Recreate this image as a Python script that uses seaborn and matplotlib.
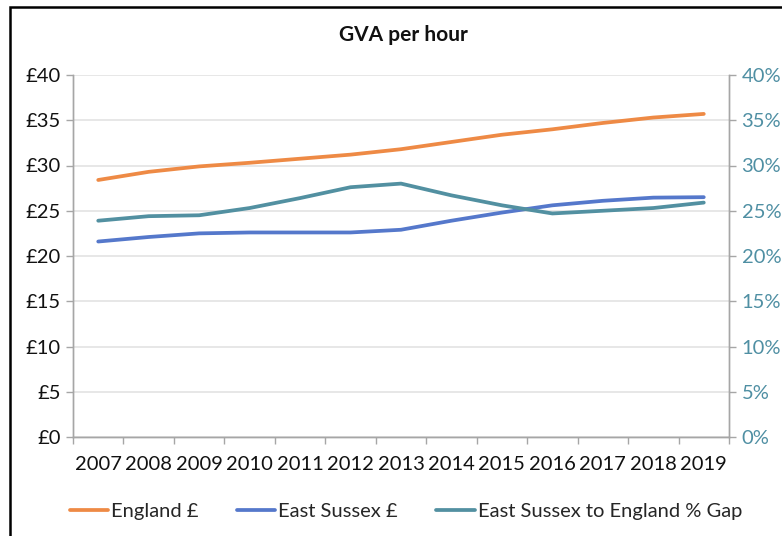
import matplotlib
matplotlib.use("Agg")
import matplotlib.pyplot as plt
import seaborn as sns
import pandas as pd
from matplotlib.lines import Line2D
from matplotlib.patches import Rectangle
from matplotlib.ticker import FixedLocator, FuncFormatter

years = ["2007", "2008", "2009", "2010", "2011", "2012", "2013",
         "2014", "2015", "2016", "2017", "2018", "2019"]
england = [28.4, 29.3, 29.9, 30.3, 30.75, 31.2, 31.8, 32.6, 33.4, 34.0, 34.7, 35.3, 35.7]
east_sussex = [21.6, 22.1, 22.5, 22.6, 22.6, 22.6, 22.9, 23.9, 24.8, 25.6, 26.1, 26.45, 26.5]
gap_pct = [23.9, 24.4, 24.5, 25.3, 26.4, 27.6, 28.0, 26.7, 25.6, 24.7, 25.0, 25.3, 25.9]

series_names = ["England £", "East Sussex £", "East Sussex to England % Gap"]
colors = ["#EE8A45", "#5578CB", "#5290A1"]
right_color = "#4F8FA3"

sns.set_theme(style="white")
plt.rcParams["font.family"] = ["Lato", "DejaVu Sans"]

df = pd.DataFrame({"year": years, "england": england,
                   "es": east_sussex, "gap": gap_pct})

fig = plt.figure(figsize=(7.82, 5.36), dpi=100)
ax = fig.add_axes([73 / 782, 1 - 437 / 536, (729 - 73) / 782, (437 - 75) / 536])
ax2 = ax.twinx()

lw = 2.7
sns.lineplot(data=df, x="year", y="england", ax=ax, color=colors[0], lw=lw,
             sort=False)
sns.lineplot(data=df, x="year", y="es", ax=ax, color=colors[1], lw=lw,
             sort=False)
sns.lineplot(data=df, x="year", y="gap", ax=ax2, color=colors[2], lw=lw,
             sort=False)

n = len(years)
for a in (ax, ax2):
    a.set_xlim(-0.5, n - 0.5)
    a.set_xlabel("")
    a.set_ylabel("")
ax.set_ylim(0, 40)
ax2.set_ylim(0, 40)
ax.set_yticks(range(0, 41, 5))
ax2.set_yticks(range(0, 41, 5))
ax.yaxis.set_major_formatter(FuncFormatter(lambda v, p: f"£{int(v)}"))
ax2.yaxis.set_major_formatter(FuncFormatter(lambda v, p: f"{int(v)}%"))

# gridlines
ax.grid(axis="y", color="#E3E3E3", lw=1.2)
ax.set_axisbelow(True)

fs = 14.5
# x ticks: marks at boundaries, labels at centers
ax.xaxis.set_major_locator(FixedLocator([i - 0.5 for i in range(n + 1)]))
ax.xaxis.set_major_formatter(FuncFormatter(lambda v, p: ""))
ax.xaxis.set_minor_locator(FixedLocator(list(range(n))))
ax.set_xticklabels(years, minor=True)
ax.tick_params(axis="x", which="major", length=5, color="#A6A6A6", width=1,
               bottom=True, direction="out")
ax.tick_params(axis="x", which="minor", length=0, labelsize=fs, pad=14,
               labelcolor="#111111")
ax.tick_params(axis="y", length=5, color="#A6A6A6", width=1, left=True,
               direction="out", labelsize=fs, pad=4, labelcolor="#111111")
ax2.tick_params(axis="y", length=5, color="#A6A6A6", width=1, right=True,
                direction="out", labelsize=fs, pad=4, labelcolor=right_color)

for a in (ax, ax2):
    for s in ["top"]:
        a.spines[s].set_visible(False)
    for s in ["left", "right", "bottom"]:
        a.spines[s].set_color("#A6A6A6")
        a.spines[s].set_linewidth(1)

fig.text(403 / 782, 1 - 35 / 536, "GVA per hour", ha="center", va="center",
         fontsize=15, fontweight="bold", color="#111111")

handles = [Line2D([0], [0], color=c, lw=lw) for c in colors]
fig.legend(handles, series_names, loc="center", ncol=3,
           bbox_to_anchor=(406 / 782, 1 - 511 / 536), frameon=False,
           fontsize=fs, handlelength=1.9, handletextpad=0.15,
           columnspacing=1.9)

# partial outer border (left and top visible)
fig.patches.append(Rectangle((10 / 782, -0.2), 1.2, 1 - 7 / 536 + 0.2,
                             transform=fig.transFigure, fill=False,
                             edgecolor="black", lw=1.8, clip_on=False))

fig.savefig("out.png", dpi=100, facecolor="white")
